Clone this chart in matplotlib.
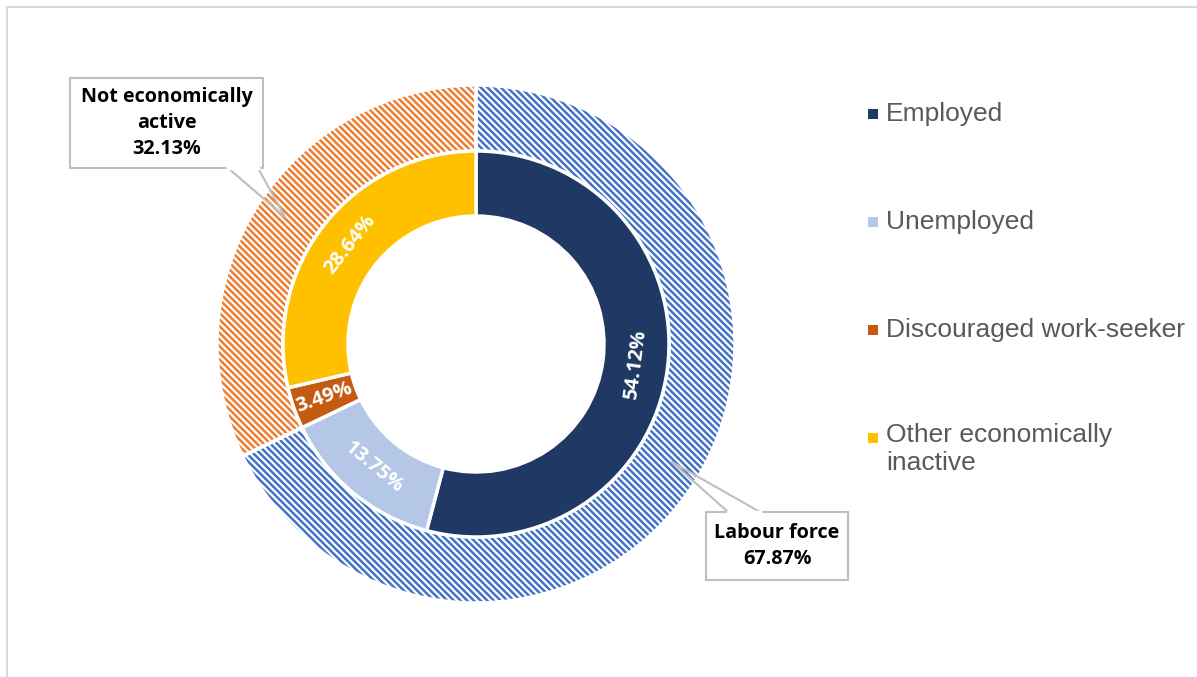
import matplotlib.pyplot as plt
import numpy as np

# inner ring
inner_labels = ["Employed", "Unemployed", "Discouraged work-seeker",
                "Other economically\ninactive"]
inner_values = [54.12, 13.75, 3.49, 28.64]
inner_colors = ["#1F3864", "#B4C7E7", "#C55A11", "#FFC000"]

# outer ring
outer_labels = ["Labour force", "Not economically\nactive"]
outer_values = [67.87, 32.13]
outer_colors = ["#4472C4", "#ED7D31"]

plt.rcParams['hatch.linewidth'] = 1.8

fig = plt.figure(figsize=(11.97, 6.77), dpi=100)
ax = fig.add_axes([0, 0, 1, 1])

# chart border
ax.plot([7, 7, 1197], [0, 670, 670], color="#D9D9D9", lw=1.5)

cx, cy = 476, 333
R = 259
r_mid = 193
r_in = 128

# outer hatched ring
wedges_out, _ = ax.pie(outer_values, radius=R, center=(cx, cy), startangle=90,
                       counterclock=False, colors=["white", "white"], frame=True,
                       wedgeprops=dict(width=R - r_mid, lw=0))
for w, c in zip(wedges_out, outer_colors):
    w.set_facecolor("white")
    w.set_hatch("\\\\\\\\\\")
    w.set_edgecolor(c)
    w.set_linewidth(0)
# white separators over the hatch
ax.pie(outer_values, radius=R, center=(cx, cy), startangle=90, counterclock=False,
       colors=["none", "none"], frame=True,
       wedgeprops=dict(width=R - r_mid, edgecolor="white", lw=2.5))

wedges_in, _ = ax.pie(inner_values, radius=r_mid, center=(cx, cy), startangle=90,
                      counterclock=False, colors=inner_colors, frame=True,
                      wedgeprops=dict(width=r_mid - r_in, edgecolor="white", lw=2.5))
ax.set_xlim(0, 1197)
ax.set_ylim(0, 677)
ax.set_aspect('equal')
ax.axis('off')

# inner labels
lab_font = ["Open Sans", "DejaVu Sans"]
start = 90
for v, c in zip(inner_values, inner_colors):
    mid = start - v * 3.6 / 2
    start -= v * 3.6
    rad = np.deg2rad(mid)
    rr = (r_mid + r_in) / 2
    x, y = cx + rr * np.cos(rad), cy + rr * np.sin(rad)
    if v < 5:
        rot = mid % 180
        if rot > 90:
            rot -= 180
    else:
        rot = (mid - 90) % 360
        if 90 < rot < 270:
            rot -= 180
    ax.text(x, y, f"{v:.2f}%", rotation=rot, ha="center", va="center",
            rotation_mode="anchor", color="white", fontsize=14.5, fontweight="bold",
            family=lab_font)

# callouts
def callout(bx, by, bw, bh, text, tip, base):
    ax.add_patch(plt.Rectangle((bx, by), bw, bh, facecolor="white",
                               edgecolor="#BFBFBF", lw=1.5, zorder=5))
    ax.plot([base[0], tip[0], base[1]], [base[2], tip[1], base[2]],
            color="#BFBFBF", lw=1.5, zorder=6)
    ax.plot([base[0], base[1]], [base[2], base[2]], color="white", lw=2.5, zorder=6)
    ax.text(bx + bw / 2, by + bh / 2, text, ha="center", va="center",
            fontsize=14.2, fontweight="bold", family=lab_font, color="black",
            linespacing=1.42, zorder=7)

callout(70, 677 - 168, 193, 90,
        f"{outer_labels[1]}\n{outer_values[1]:.2f}%",
        (285, 677 - 217), (228, 258, 677 - 168))
callout(706, 677 - 580, 142, 68,
        f"{outer_labels[0]}\n{outer_values[0]:.2f}%",
        (672, 677 - 462), (728, 760, 677 - 512))

# legend
leg_y = [677 - 114, 677 - 222, 677 - 330, 677 - 438]
for lab, c, y in zip(inner_labels, inner_colors, leg_y):
    ax.add_patch(plt.Rectangle((868, y - 5), 10, 10, facecolor=c, edgecolor="none"))
    ax.text(886, y + 15 if "\n" in lab else y, lab, ha="left",
            va="top" if "\n" in lab else "center",
            fontsize=19, color="#595959", family=["Liberation Sans", "DejaVu Sans"],
            linespacing=1.22)

fig.savefig("out.png", dpi=100)
